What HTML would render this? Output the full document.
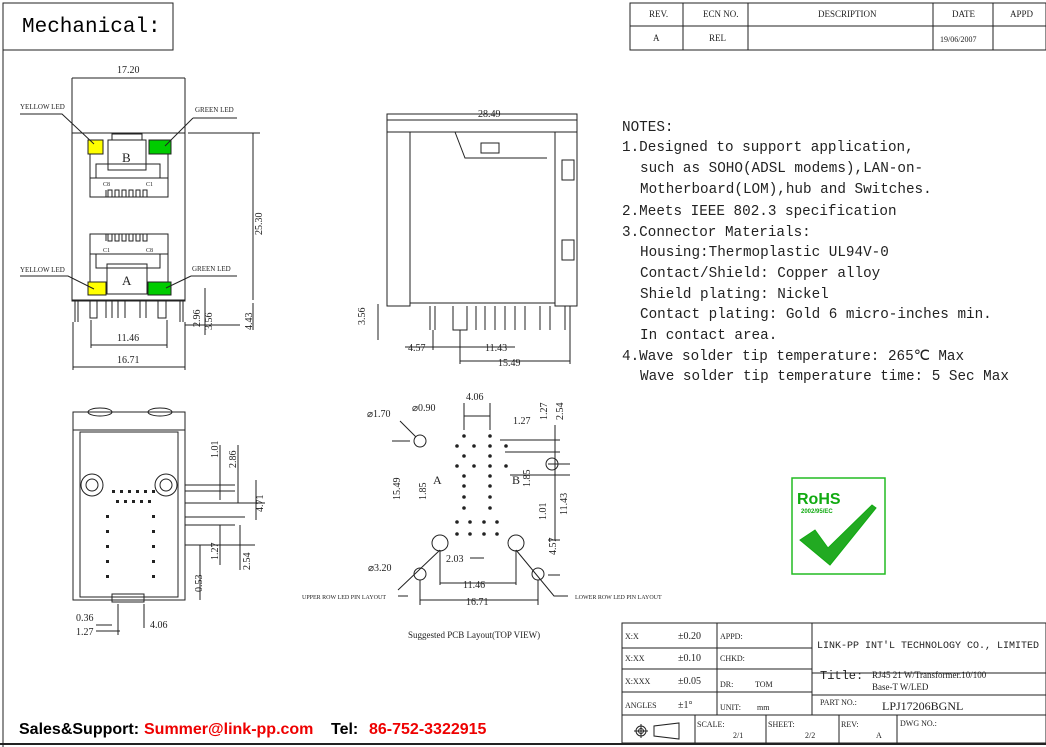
<!DOCTYPE html>
<html><head><meta charset="utf-8"><style>
body{margin:0;background:#fff}
svg{display:block;font-family:"Liberation Serif",serif}
.m{font-family:"Liberation Mono",monospace}
.sa{font-family:"Liberation Sans",sans-serif}
.d{font-size:10px}
</style></head><body>
<svg width="1046" height="747" viewBox="0 0 1046 747" xmlns="http://www.w3.org/2000/svg" stroke="#222" fill="none" stroke-width="1">
<!-- header -->
<rect x="3" y="3" width="170" height="47"/>
<text x="22" y="32" class="m" font-size="21" stroke="none" fill="#000">Mechanical:</text>
<line x1="3" y1="50" x2="3" y2="747"/>
<rect x="630" y="3" width="416" height="47"/>
<line x1="630" y1="26" x2="1046" y2="26"/>
<line x1="683" y1="3" x2="683" y2="50"/><line x1="748" y1="3" x2="748" y2="50"/><line x1="933" y1="3" x2="933" y2="50"/><line x1="993" y1="3" x2="993" y2="50"/>
<g stroke="none" font-size="9" fill="#222">
<text x="649" y="17">REV.</text><text x="703" y="17">ECN NO.</text><text x="818" y="17">DESCRIPTION</text><text x="952" y="17">DATE</text><text x="1010" y="17">APPD</text>
<text x="653" y="41">A</text><text x="709" y="41">REL</text><text x="940" y="42" font-size="8">19/06/2007</text></g>

<!-- top-left front view -->
<g>
<rect x="72" y="133" width="113" height="168"/>
<line x1="72" y1="300" x2="185" y2="300"/>
<rect x="88" y="140" width="15" height="14" fill="#ff0"/>
<rect x="149" y="140" width="22" height="14" fill="#0c0"/>
<rect x="108" y="140" width="38" height="30"/>
<rect x="112" y="134" width="30" height="6"/>
<path d="M90 154 V178 H96 V164 H160 V178 H168 V154"/>
<rect x="90" y="178" width="78" height="19"/>
<path d="M106 197 V190 M108 197 V190 H112 V197 M115 197 V190 H119 V197 M122 197 V190 H126 V197 M129 197 V190 H133 V197 M136 197 V190 H140 V197 M143 197 V190 H147 V197"/>
<text x="122" y="162" stroke="none" fill="#222" font-size="13">B</text>
<text x="103" y="186" stroke="none" fill="#222" font-size="6">C8</text><text x="146" y="186" stroke="none" fill="#222" font-size="6">C1</text>
<rect x="90" y="234" width="78" height="20"/>
<path d="M106 234 V241 M108 234 V241 H112 V234 M115 234 V241 H119 V234 M122 234 V241 H126 V234 M129 234 V241 H133 V234 M136 234 V241 H140 V234 M143 234 V241 H147 V234"/>
<text x="103" y="252" stroke="none" fill="#222" font-size="6">C1</text><text x="146" y="252" stroke="none" fill="#222" font-size="6">C8</text>
<path d="M90 254 V282 M168 254 V282 M96 254 V268 H160 V254"/>
<rect x="107" y="264" width="40" height="30"/>
<rect x="88" y="282" width="18" height="13" fill="#ff0"/>
<rect x="148" y="282" width="23" height="13" fill="#0c0"/>
<text x="122" y="285" stroke="none" fill="#222" font-size="13">A</text>
<path d="M75 300 V322 M78 300 V322 M90 300 V318 H97 V300 M106 300 V318 M112 300 V318 M118 300 V318 M125 300 V318 M140 300 V318 M146 300 V318 M158 300 V318 H166 V300 M180 300 V322 M183 300 V322"/>
<line x1="72" y1="78" x2="72" y2="133"/><line x1="185" y1="78" x2="185" y2="133"/>
<line x1="72" y1="78" x2="185" y2="78"/><text x="117" y="73" stroke="none" fill="#222" class="d">17.20</text>
<line x1="188" y1="133" x2="260" y2="133"/><line x1="253" y1="133" x2="253" y2="300"/>
<text x="262" y="235" stroke="none" fill="#222" class="d" transform="rotate(-90 262 235)">25.30</text>
<line x1="253" y1="303" x2="253" y2="330"/><text x="252" y="330" stroke="none" fill="#222" class="d" transform="rotate(-90 252 330)">4.43</text>
<line x1="205" y1="288" x2="205" y2="335"/><text x="212" y="330" stroke="none" fill="#222" class="d" transform="rotate(-90 212 330)">3.56</text>
<text x="200" y="327" stroke="none" fill="#222" class="d" transform="rotate(-90 200 327)">2.96</text>
<line x1="185" y1="325" x2="240" y2="325"/>
<line x1="91" y1="345" x2="167" y2="345"/><line x1="91" y1="320" x2="91" y2="348"/><line x1="167" y1="320" x2="167" y2="348"/>
<text x="117" y="341" stroke="none" fill="#222" class="d">11.46</text>
<line x1="73" y1="367" x2="185" y2="367"/><line x1="73" y1="322" x2="73" y2="370"/><line x1="185" y1="322" x2="185" y2="370"/>
<text x="117" y="363" stroke="none" fill="#222" class="d">16.71</text>
<path d="M20 114 H62 L94 144 M20 276 H68 L94 289 M193 118 H237 M193 118 L165 146 M191 276 H237 M191 276 L166 288"/>
<g stroke="none" font-size="7" fill="#222"><text x="20" y="109">YELLOW LED</text><text x="195" y="112">GREEN LED</text><text x="20" y="272">YELLOW LED</text><text x="192" y="271">GREEN LED</text></g>
</g>

<!-- side view -->
<g>
<path d="M387 114 V306 H410 V303 H555 V306 H577 V114 Z"/>
<line x1="387" y1="132" x2="577" y2="132"/>
<path d="M410 132 V303 M555 132 V303"/>
<path d="M455 132 L465 158 H547"/>
<rect x="481" y="143" width="18" height="10"/>
<rect x="562" y="160" width="12" height="20"/><rect x="562" y="240" width="12" height="20"/>
<path d="M430 306 V330 M435 306 V330 M453 306 V330 H467 V306 M476 306 V330 M485 306 V330 M495 306 V330 M505 306 V330 M515 306 V330 M525 306 V330 M540 306 V330 M550 306 V330 M565 306 V330 M570 306 V330"/>
<line x1="387" y1="120" x2="577" y2="120"/><text x="478" y="117" stroke="none" fill="#222" class="d">28.49</text>
<line x1="378" y1="304" x2="378" y2="340"/><text x="365" y="325" stroke="none" fill="#222" class="d" transform="rotate(-90 365 325)">3.56</text>
<line x1="405" y1="347" x2="515" y2="347"/><text x="408" y="351" stroke="none" fill="#222" class="d">4.57</text>
<text x="485" y="351" stroke="none" fill="#222" class="d">11.43</text>
<line x1="460" y1="361" x2="570" y2="361"/><text x="498" y="366" stroke="none" fill="#222" class="d">15.49</text>
<line x1="460" y1="330" x2="460" y2="364"/><line x1="570" y1="330" x2="570" y2="364"/><line x1="433" y1="330" x2="433" y2="350"/>
</g>

<!-- notes -->
<g stroke="none" class="m" font-size="14.3" fill="#222">
<text x="622" y="131">NOTES:</text>
<text x="622" y="151">1.Designed to support application,</text>
<text x="640" y="172">such as SOHO(ADSL modems),LAN-on-</text>
<text x="640" y="193">Motherboard(LOM),hub and Switches.</text>
<text x="622" y="215">2.Meets IEEE 802.3 specification</text>
<text x="622" y="236">3.Connector Materials:</text>
<text x="640" y="256">Housing:Thermoplastic UL94V-0</text>
<text x="640" y="277">Contact/Shield: Copper alloy</text>
<text x="640" y="298">Shield plating: Nickel</text>
<text x="640" y="318">Contact plating: Gold 6 micro-inches min.</text>
<text x="640" y="339">In contact area.</text>
<text x="622" y="360">4.Wave solder tip temperature: 265℃ Max</text>
<text x="640" y="380">Wave solder tip temperature time: 5 Sec Max</text>
</g>

<!-- bottom left view -->
<g>
<path d="M73 430 V412 H185 V430"/>
<ellipse cx="100" cy="412" rx="12" ry="4"/><ellipse cx="160" cy="412" rx="12" ry="4"/>
<rect x="73" y="430" width="112" height="170"/>
<rect x="80" y="432" width="98" height="165"/>
<circle cx="92" cy="485" r="11"/><circle cx="92" cy="485" r="6"/>
<circle cx="166" cy="485" r="11"/><circle cx="166" cy="485" r="6"/>
<g fill="#222" stroke="none">
<rect x="112" y="490" width="3" height="3"/><rect x="120" y="490" width="3" height="3"/><rect x="128" y="490" width="3" height="3"/><rect x="136" y="490" width="3" height="3"/><rect x="144" y="490" width="3" height="3"/><rect x="152" y="490" width="3" height="3"/>
<rect x="116" y="500" width="3" height="3"/><rect x="124" y="500" width="3" height="3"/><rect x="132" y="500" width="3" height="3"/><rect x="140" y="500" width="3" height="3"/><rect x="148" y="500" width="3" height="3"/>
<rect x="106" y="515" width="3" height="3"/><rect x="106" y="530" width="3" height="3"/><rect x="106" y="545" width="3" height="3"/><rect x="106" y="560" width="3" height="3"/><rect x="106" y="575" width="3" height="3"/>
<rect x="152" y="515" width="3" height="3"/><rect x="152" y="530" width="3" height="3"/><rect x="152" y="545" width="3" height="3"/><rect x="152" y="560" width="3" height="3"/><rect x="152" y="575" width="3" height="3"/>
</g>
<rect x="112" y="594" width="32" height="8"/>
<path d="M185 485 H235 M185 491 H235 M185 503 H265 M185 517 H245 M185 525 H235 M185 545 H255"/>
<line x1="220" y1="445" x2="220" y2="500"/><text x="218" y="458" stroke="none" fill="#222" class="d" transform="rotate(-90 218 458)">1.01</text>
<line x1="238" y1="445" x2="238" y2="503"/><text x="236" y="468" stroke="none" fill="#222" class="d" transform="rotate(-90 236 468)">2.86</text>
<line x1="256" y1="480" x2="256" y2="520"/><text x="263" y="512" stroke="none" fill="#222" class="d" transform="rotate(-90 263 512)">4.71</text>
<line x1="220" y1="525" x2="220" y2="565"/><text x="218" y="560" stroke="none" fill="#222" class="d" transform="rotate(-90 218 560)">1.27</text>
<line x1="240" y1="525" x2="240" y2="570"/><text x="250" y="570" stroke="none" fill="#222" class="d" transform="rotate(-90 250 570)">2.54</text>
<line x1="200" y1="545" x2="200" y2="600"/><text x="202" y="592" stroke="none" fill="#222" class="d" transform="rotate(-90 202 592)">0.53</text>
<text x="76" y="621" stroke="none" fill="#222" class="d">0.36</text><text x="76" y="635" stroke="none" fill="#222" class="d">1.27</text><text x="150" y="628" stroke="none" fill="#222" class="d">4.06</text>
<path d="M96 625 H112 M96 631 H120 M118 604 V635 M144 604 V628"/>
</g>

<!-- PCB layout -->
<g>
<circle cx="420" cy="441" r="6"/><circle cx="552" cy="464" r="6"/>
<circle cx="440" cy="543" r="8"/><circle cx="516" cy="543" r="8"/>
<circle cx="420" cy="574" r="6"/><circle cx="538" cy="574" r="6"/>
<g fill="#222" stroke="none">
<circle cx="464" cy="436" r="1.8"/><circle cx="490" cy="436" r="1.8"/>
<circle cx="457" cy="446" r="1.8"/><circle cx="474" cy="446" r="1.8"/><circle cx="490" cy="446" r="1.8"/><circle cx="506" cy="446" r="1.8"/>
<circle cx="464" cy="456" r="1.8"/><circle cx="490" cy="456" r="1.8"/>
<circle cx="457" cy="466" r="1.8"/><circle cx="474" cy="466" r="1.8"/><circle cx="490" cy="466" r="1.8"/><circle cx="506" cy="466" r="1.8"/>
<circle cx="464" cy="476" r="1.8"/><circle cx="490" cy="476" r="1.8"/>
<circle cx="464" cy="486" r="1.8"/><circle cx="490" cy="486" r="1.8"/>
<circle cx="464" cy="497" r="1.8"/><circle cx="490" cy="497" r="1.8"/>
<circle cx="464" cy="508" r="1.8"/><circle cx="490" cy="508" r="1.8"/>
<circle cx="457" cy="522" r="1.8"/><circle cx="470" cy="522" r="1.8"/><circle cx="484" cy="522" r="1.8"/><circle cx="497" cy="522" r="1.8"/>
<circle cx="457" cy="534" r="1.8"/><circle cx="470" cy="534" r="1.8"/><circle cx="484" cy="534" r="1.8"/><circle cx="497" cy="534" r="1.8"/>
</g>
<g stroke="none" fill="#222">
<text x="433" y="484" font-size="12">A</text><text x="512" y="484" font-size="12">B</text>
<text x="367" y="417" class="d">⌀1.70</text><text x="412" y="411" class="d">⌀0.90</text>
<text x="466" y="400" class="d">4.06</text><text x="513" y="424" class="d">1.27</text>
<text x="547" y="420" class="d" transform="rotate(-90 547 420)">1.27</text>
<text x="563" y="420" class="d" transform="rotate(-90 563 420)">2.54</text>
<text x="400" y="500" class="d" transform="rotate(-90 400 500)">15.49</text>
<text x="426" y="500" class="d" transform="rotate(-90 426 500)">1.85</text>
<text x="530" y="487" class="d" transform="rotate(-90 530 487)">1.85</text>
<text x="546" y="520" class="d" transform="rotate(-90 546 520)">1.01</text>
<text x="567" y="515" class="d" transform="rotate(-90 567 515)">11.43</text>
<text x="556" y="555" class="d" transform="rotate(-90 556 555)">4.57</text>
<text x="446" y="562" class="d">2.03</text>
<text x="463" y="588" class="d">11.46</text>
<text x="466" y="605" class="d">16.71</text>
<text x="368" y="571" class="d">⌀3.20</text>
<text x="302" y="599" font-size="6">UPPER ROW LED PIN LAYOUT</text>
<text x="575" y="599" font-size="6">LOWER ROW LED PIN LAYOUT</text>
<text x="408" y="638" font-size="9">Suggested PCB Layout(TOP VIEW)</text>
</g>
<path d="M464 403 V430 M490 403 V430 M464 416 H490 M400 421 L416 437 M392 441 H410 M420 580 V605 M538 580 V605 M420 600 H538 M440 585 V550 M516 585 V550 M440 583 H516 M398 590 L440 550 M516 550 L554 596 H568 M398 596 H408 M500 440 H560 M505 452 H560 M548 464 H570 M510 475 H570 M548 540 H560 M548 575 H560 M470 558 H484"/>
<line x1="555" y1="425" x2="555" y2="540"/>
</g>

<!-- RoHS -->
<rect x="792" y="478" width="93" height="96" stroke="#2b2" stroke-width="1.5"/>
<text x="797" y="504" stroke="none" fill="#1a1" class="sa" font-weight="bold" font-size="16">RoHS</text>
<text x="801" y="513" stroke="none" fill="#1a1" class="sa" font-size="6" font-weight="bold">2002/95/EC</text>
<path d="M800 540 L815 530 L828 548 L872 505 L876 508 L830 565 Z" fill="#2a2" stroke="#1a1"/>

<!-- title block -->
<g stroke="#222">
<rect x="622" y="623" width="424" height="120"/>
<line x1="622" y1="648" x2="812" y2="648"/><line x1="622" y1="669" x2="812" y2="669"/><line x1="622" y1="692" x2="812" y2="692"/><line x1="622" y1="715" x2="1046" y2="715"/>
<line x1="717" y1="623" x2="717" y2="715"/><line x1="812" y1="623" x2="812" y2="715"/>
<line x1="812" y1="673" x2="1046" y2="673"/><line x1="812" y1="695" x2="1046" y2="695"/>
<line x1="695" y1="715" x2="695" y2="743"/><line x1="766" y1="715" x2="766" y2="743"/><line x1="839" y1="715" x2="839" y2="743"/><line x1="897" y1="715" x2="897" y2="743"/>
<circle cx="641" cy="731" r="5"/><circle cx="641" cy="731" r="2.5"/><path d="M634 731 H648 M641 724 V738 M654 726 V736 L679 739 V723 Z"/>
</g>
<g stroke="none" font-size="8" fill="#222">
<text x="625" y="639">X:X</text><text x="678" y="639" font-size="10">±0.20</text><text x="720" y="639">APPD:</text>
<text x="625" y="661">X:XX</text><text x="678" y="661" font-size="10">±0.10</text><text x="720" y="661">CHKD:</text>
<text x="625" y="684">X:XXX</text><text x="678" y="684" font-size="10">±0.05</text><text x="720" y="687">DR:</text><text x="755" y="687">TOM</text>
<text x="625" y="708">ANGLES</text><text x="678" y="708" font-size="10">±1°</text><text x="720" y="710">UNIT:</text><text x="757" y="710">mm</text>
<text x="697" y="727">SCALE:</text><text x="733" y="738">2/1</text><text x="768" y="727">SHEET:</text><text x="805" y="738">2/2</text>
<text x="841" y="727">REV:</text><text x="876" y="738">A</text><text x="900" y="726">DWG NO.:</text>
<text x="817" y="648" font-size="10" class="m">LINK-PP INT'L TECHNOLOGY CO., LIMITED</text>
<text x="820" y="679" font-size="12" class="m">Title:</text>
<text x="872" y="678" font-size="9">RJ45 21 W/Transformer.10/100</text><text x="872" y="690" font-size="9">Base-T W/LED</text>
<text x="820" y="705">PART NO.:</text><text x="882" y="710" font-size="12">LPJ17206BGNL</text>
</g>
<line x1="0" y1="744" x2="1046" y2="744" stroke-width="2"/>
<g stroke="none" font-size="16" font-weight="bold" class="sa">
<text x="19" y="734" fill="#000">Sales&amp;Support:</text>
<text x="144" y="734" fill="#e00">Summer@link-pp.com</text>
<text x="331" y="734" fill="#000">Tel:</text>
<text x="369" y="734" fill="#e00">86-752-3322915</text>
</g>
</svg>
</body></html>
